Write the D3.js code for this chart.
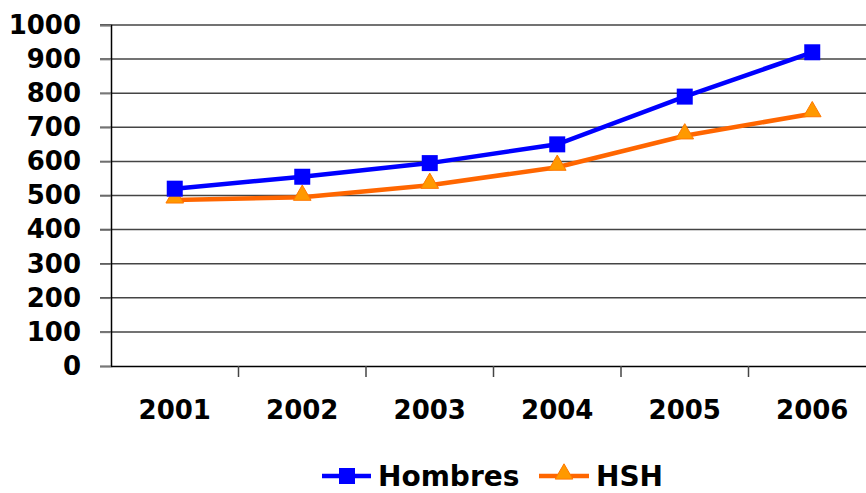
<!DOCTYPE html>
<html>
<head>
<meta charset="utf-8">
<script src="https://cdn.jsdelivr.net/npm/d3@7"></script>
<style>
body { margin: 0; background: #fff; }
text { font-family: "DejaVu Sans", sans-serif; font-weight: bold; }
</style>
</head>
<body>
<div id="chart"></div>
<script>
const years = ["2001", "2002", "2003", "2004", "2005", "2006"];
const hombres = [520, 555, 595, 650, 790, 920];
const hsh = [487, 495, 530, 583, 675, 740];
const yTicks = [0, 100, 200, 300, 400, 500, 600, 700, 800, 900, 1000];

const W = 866, H = 493;
const plotL = 111, plotR = 876, plotT = 25, plotB = 366;

const svg = d3.select("#chart").append("svg")
    .attr("width", W)
    .attr("height", H);

const x = d3.scaleBand().domain(years).range([plotL, plotR]);
const y = d3.scaleLinear().domain([0, 1000]).range([plotB, plotT]);

// gridlines
svg.append("g")
    .selectAll("line")
    .data(yTicks.filter(d => d > 0))
    .enter()
    .append("line")
    .attr("x1", plotL - 11)
    .attr("x2", plotR)
    .attr("y1", d => y(d))
    .attr("y2", d => y(d))
    .attr("stroke", "#444")
    .attr("stroke-width", 1.5);

// Y axis
const yAxis = d3.axisLeft(y).tickValues(yTicks).tickFormat(d3.format("d"))
    .tickSize(11).tickPadding(19);
const gy = svg.append("g")
    .attr("transform", `translate(${plotL},0)`)
    .call(yAxis);
gy.select(".domain").attr("stroke", "#000").attr("stroke-width", 1.5);
gy.selectAll(".tick line").attr("stroke", "#777").attr("stroke-width", 1.5);
gy.selectAll("text")
    .style("font-size", "26px")
    .attr("fill", "#000");

// X axis
const xAxis = d3.axisBottom(x).tickSize(0).tickPadding(35);
const gx = svg.append("g")
    .attr("transform", `translate(0,${plotB})`)
    .call(xAxis);
gx.select(".domain").attr("stroke", "#000").attr("stroke-width", 1.5);
gx.selectAll("text")
    .style("font-size", "26px")
    .attr("fill", "#000");

// category separators
svg.append("g")
    .selectAll("line")
    .data(years.slice(1))
    .enter()
    .append("line")
    .attr("x1", d => x(d))
    .attr("x2", d => x(d))
    .attr("y1", plotB)
    .attr("y2", plotB + 11)
    .attr("stroke", "#444")
    .attr("stroke-width", 1.5);

const cx = d => x(d) + x.bandwidth() / 2;

const line = d3.line()
    .x((d, i) => cx(years[i]))
    .y(d => y(d));

// HSH series
svg.append("path")
    .datum(hsh)
    .attr("d", line)
    .attr("fill", "none")
    .attr("stroke", "#ff6600")
    .attr("stroke-width", 4.5);

const tri = d3.symbol().type(d3.symbolTriangle).size(135);
svg.append("g")
    .selectAll("path")
    .data(hsh)
    .enter()
    .append("path")
    .attr("d", tri)
    .attr("transform", (d, i) => `translate(${cx(years[i])},${y(d) - 2})`)
    .attr("fill", "#ff9900")
    .attr("stroke", "#ff7700")
    .attr("stroke-width", 1);

// Hombres series
svg.append("path")
    .datum(hombres)
    .attr("d", line)
    .attr("fill", "none")
    .attr("stroke", "#0000ff")
    .attr("stroke-width", 4.5);

svg.append("g")
    .selectAll("rect")
    .data(hombres)
    .enter()
    .append("rect")
    .attr("x", (d, i) => cx(years[i]) - 8)
    .attr("y", d => y(d) - 8)
    .attr("width", 16)
    .attr("height", 16)
    .attr("fill", "#0000ff");

// legend
const lg = svg.append("g").attr("transform", "translate(0,476)");
lg.append("line").attr("x1", 322).attr("x2", 371).attr("y1", 0).attr("y2", 0)
    .attr("stroke", "#0000ff").attr("stroke-width", 4.5);
lg.append("rect").attr("x", 339).attr("y", -8).attr("width", 16).attr("height", 16)
    .attr("fill", "#0000ff");
lg.append("text").attr("x", 378).attr("y", 10).style("font-size", "28px").text("Hombres");
lg.append("line").attr("x1", 539).attr("x2", 589).attr("y1", 0).attr("y2", 0)
    .attr("stroke", "#ff6600").attr("stroke-width", 4.5);
lg.append("path").attr("d", tri).attr("transform", "translate(564,-2)")
    .attr("fill", "#ff9900").attr("stroke", "#ff7700");
lg.append("text").attr("x", 596).attr("y", 10).style("font-size", "28px").text("HSH");
</script>
</body>
</html>
